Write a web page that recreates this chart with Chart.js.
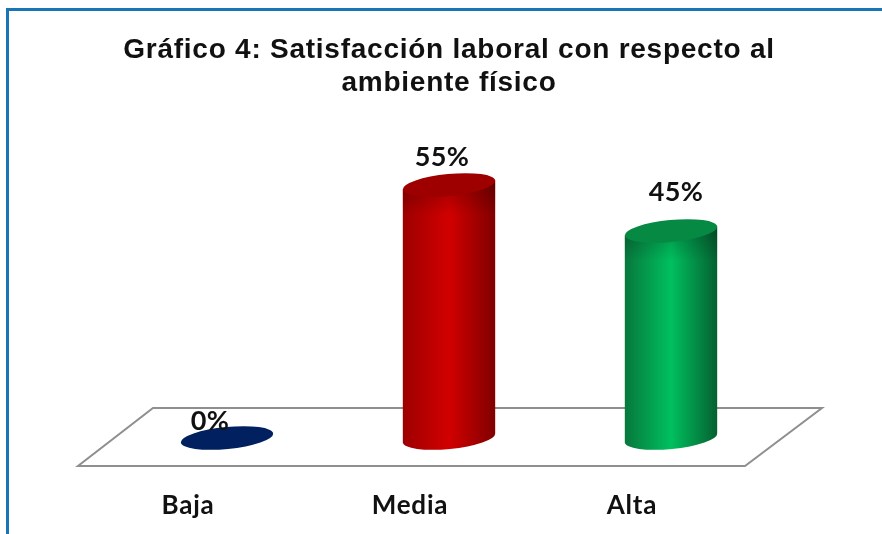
<!DOCTYPE html>
<html>
<head>
<meta charset="utf-8">
<title>Satisfacción laboral</title>
<script src="https://cdn.jsdelivr.net/npm/chart.js@4"></script>
<style>
    html, body { margin: 0; padding: 0; background: #ffffff; overflow: hidden; }
    #frame {
        position: absolute;
        left: 6px;
        top: 8px;
        width: 876px;
        height: 526px;
        border-top: 3px solid #1a74b8;
        border-left: 3px solid #1a74b8;
        box-sizing: border-box;
    }
    #wrap { position: absolute; left: 0; top: 0; width: 882px; height: 534px; }
</style>
</head>
<body>
<div id="frame"></div>
<div id="wrap"><canvas id="chart" width="882" height="534"></canvas></div>
<script>
const categories = ['Baja', 'Media', 'Alta'];
const values = [0, 55, 45];
const titleLines = ['Gráfico 4: Satisfacción laboral con respecto al', 'ambiente físico'];

// edge, centre and cap shades of each cylinder
const edgeLeft = ['#001f5c', '#9c0000', '#07773c'];
const centre = ['#002060', '#d20000', '#00c05f'];
const edgeRight = ['#001f5c', '#800000', '#056030'];
const capColor = ['#002060', '#9e0000', '#068a43'];

const TILT = -5.5 * Math.PI / 180;
const CAP_RY = 11;

function sideGradient(ctx, x0, x1, i) {
    const g = ctx.createLinearGradient(x0, 0, x1, 0);
    g.addColorStop(0, edgeLeft[i]);
    g.addColorStop(0.5, centre[i]);
    g.addColorStop(1, edgeRight[i]);
    return g;
}

// slightly wider tracking for the title and axis text
const spacingPlugin = {
    id: 'spacing',
    beforeDraw(chart) {
        chart.ctx.letterSpacing = '0.75px';
    }
};

// sloped floor under the bars, hung off the plot area
const floorPlugin = {
    id: 'floor',
    beforeDatasetsDraw(chart) {
        const { ctx, chartArea: a } = chart;
        const front = a.bottom + 28, back = a.bottom - 30;
        ctx.save();
        ctx.strokeStyle = '#8f8f8f';
        ctx.lineWidth = 2;
        ctx.beginPath();
        ctx.moveTo(a.left - 38, front);
        ctx.lineTo(a.right - 37, front);
        ctx.lineTo(a.right + 40, back);
        ctx.lineTo(a.left + 37, back);
        ctx.closePath();
        ctx.stroke();
        ctx.restore();
    }
};

// turns each bar into a cylinder and prints its percentage
const cylinderPlugin = {
    id: 'cylinder',
    afterDatasetsDraw(chart) {
        const { ctx } = chart;
        const shiftX = [-17, -7, 5];
        const shiftY = [-17, -28, -39];
        chart.getDatasetMeta(0).data.forEach((bar, i) => {
            const rx = bar.width * 0.58;
            const dx = rx * Math.cos(TILT), dy = rx * Math.sin(TILT);
            ctx.save();
            if (values[i] > 0) {
                ctx.beginPath();
                ctx.moveTo(bar.x - dx, bar.y - dy);
                ctx.lineTo(bar.x - dx, bar.base - dy);
                ctx.ellipse(bar.x, bar.base, rx, CAP_RY, TILT, Math.PI, 0, true);
                ctx.lineTo(bar.x + dx, bar.y + dy);
                ctx.closePath();
                ctx.fillStyle = sideGradient(ctx, bar.x - rx, bar.x + rx, i);
                ctx.fill();

                // soft shade just below the cap
                const shade = ctx.createLinearGradient(0, bar.y, 0, bar.y + 30);
                shade.addColorStop(0, 'rgba(0,0,0,0.22)');
                shade.addColorStop(1, 'rgba(0,0,0,0)');
                ctx.fillStyle = shade;
                ctx.fill();
            }
            ctx.fillStyle = capColor[i];
            ctx.beginPath();
            ctx.ellipse(bar.x, bar.y, rx, CAP_RY, TILT, 0, Math.PI * 2);
            ctx.fill();

            ctx.fillStyle = '#111111';
            ctx.font = 'bold 27px Lato';
            ctx.letterSpacing = '0.4px';
            ctx.textAlign = 'center';
            ctx.textBaseline = 'middle';
            ctx.fillText(values[i] + '%', bar.x + shiftX[i], bar.y + shiftY[i]);
            ctx.restore();
        });
    }
};

new Chart(document.getElementById('chart').getContext('2d'), {
    type: 'bar',
    data: {
        labels: categories,
        datasets: [{
            data: values,
            barThickness: 80,
            borderWidth: 0,
            backgroundColor: (c) => {
                const a = c.chart.chartArea;
                if (!a) return centre[c.dataIndex];
                const x = c.chart.scales.x.getPixelForValue(c.dataIndex);
                return sideGradient(c.chart.ctx, x - 46, x + 46, c.dataIndex);
            }
        }]
    },
    options: {
        responsive: false,
        animation: false,
        layout: { padding: { left: 116, right: 100, top: 0, bottom: 0 } },
        plugins: {
            legend: { display: false },
            tooltip: { enabled: false },
            title: {
                display: true,
                text: titleLines,
                color: '#111111',
                font: { family: 'Liberation Sans', size: 28, weight: 'bold', lineHeight: 1.18 },
                padding: { top: 34, bottom: 9 }
            }
        },
        scales: {
            x: {
                grid: { display: false, drawTicks: false },
                border: { display: false },
                afterFit(scale) { scale.height = 96; },
                ticks: { color: '#111111', padding: 52, labelOffset: -39, font: { family: 'Lato', size: 26, weight: 'bold' } }
            },
            y: {
                display: false,
                min: 0,
                max: 71.5
            }
        }
    },
    plugins: [spacingPlugin, floorPlugin, cylinderPlugin]
});
</script>
</body>
</html>
